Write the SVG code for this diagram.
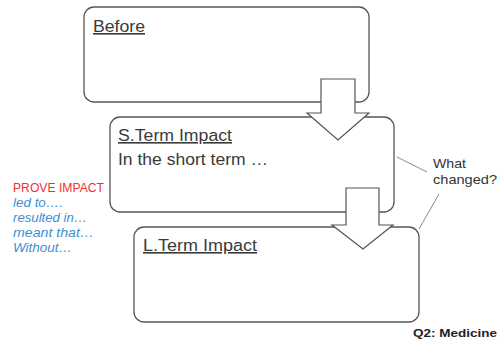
<svg xmlns="http://www.w3.org/2000/svg" width="501" height="340" viewBox="0 0 501 340">
<style>
.box{fill:#fff;stroke:#555;stroke-width:1.3}
.arr{fill:#fff;stroke:#555;stroke-width:1.2}
.ttl{font-family:"Liberation Sans",Arial,sans-serif;font-size:16px;fill:#3a3a3a;text-decoration:underline}
.body{font-family:"Liberation Sans",Arial,sans-serif;font-size:16px;fill:#3a3a3a}
.note{font-family:"Liberation Sans",Arial,sans-serif;font-size:13px;fill:#333}
.blue{font-family:"Liberation Sans",Arial,sans-serif;font-size:13px;font-style:italic;fill:#3b8fd6}
.lead{stroke:#888;stroke-width:1;fill:none}
</style>
<rect width="501" height="340" fill="#fff"/>
<g id="before">
<rect class="box" x="84" y="7" width="285" height="95" rx="10"/>
<text class="ttl" x="93" y="32" textLength="52" lengthAdjust="spacingAndGlyphs">Before</text>
</g>
<g id="short-term">
<rect class="box" x="110" y="117" width="284" height="95" rx="10"/>
<text class="ttl" x="118" y="141" textLength="114" lengthAdjust="spacingAndGlyphs">S.Term Impact</text>
<text class="body" x="118" y="165" textLength="150" lengthAdjust="spacingAndGlyphs">In the short term …</text>
</g>
<g id="long-term">
<rect class="box" x="134" y="227" width="285" height="95" rx="10"/>
<text class="ttl" x="143" y="251" textLength="114" lengthAdjust="spacingAndGlyphs">L.Term Impact</text>
</g>
<g id="connectors">
<polygon class="arr" points="321,79 355,79 355,113 369,113 338,140 307,113 321,113"/>
<polygon class="arr" points="346,188 379,188 379,225 393,225 363,249 332,225 346,225"/>
<line class="lead" x1="397" y1="157" x2="427" y2="172"/>
<line class="lead" x1="439" y1="194" x2="419" y2="229"/>
</g>
<g id="what-changed">
<text class="note" x="433" y="168" textLength="33" lengthAdjust="spacingAndGlyphs">What</text>
<text class="note" x="433" y="184" textLength="64" lengthAdjust="spacingAndGlyphs">changed?</text>
</g>
<g id="prove-impact">
<text x="13" y="192" font-family="Liberation Sans, Arial, sans-serif" font-size="12.5" fill="#f03030" textLength="91" lengthAdjust="spacingAndGlyphs">PROVE IMPACT</text>
<text class="blue" x="13" y="207" textLength="50" lengthAdjust="spacingAndGlyphs">led to….</text>
<text class="blue" x="13" y="222" textLength="74" lengthAdjust="spacingAndGlyphs">resulted in…</text>
<text class="blue" x="13" y="237" textLength="81" lengthAdjust="spacingAndGlyphs">meant that…</text>
<text class="blue" x="13" y="252" textLength="59" lengthAdjust="spacingAndGlyphs">Without…</text>
</g>
<g id="label">
<text x="413" y="337" font-family="Liberation Sans, Arial, sans-serif" font-size="11" font-weight="bold" fill="#222" textLength="84" lengthAdjust="spacingAndGlyphs">Q2: Medicine</text>
</g>
</svg>
